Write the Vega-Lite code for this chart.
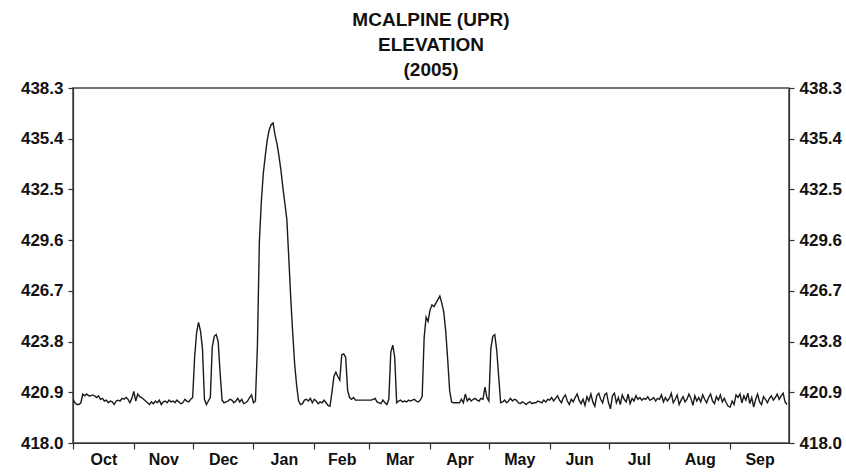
{
"$schema": "https://vega.github.io/schema/vega-lite/v6.json",
"autosize": {"type": "none"},
"padding": {"left": 73, "top": 88, "right": 57, "bottom": 29},
"width": 716,
"height": 355,
"background": "white",
"title": {"text": ["MCALPINE (UPR)", "ELEVATION", "(2005)"], "font": "Liberation Sans", "fontWeight": "bold", "fontSize": 19, "lineHeight": 25, "anchor": "middle", "offset": -1, "color": "#111"},
"config": {"view": {"stroke": "#444", "strokeWidth": 1.5}},
"data": {"values": [
{"date":"2004-10-01","elev":420.5},{"date":"2004-10-02","elev":420.3},{"date":"2004-10-03","elev":420.2},{"date":"2004-10-04","elev":420.2},{"date":"2004-10-05","elev":420.3},{"date":"2004-10-06","elev":420.8},{"date":"2004-10-07","elev":420.7},{"date":"2004-10-08","elev":420.8},{"date":"2004-10-09","elev":420.7},{"date":"2004-10-10","elev":420.7},{"date":"2004-10-11","elev":420.75},{"date":"2004-10-12","elev":420.7},{"date":"2004-10-13","elev":420.6},{"date":"2004-10-14","elev":420.7},{"date":"2004-10-15","elev":420.5},{"date":"2004-10-16","elev":420.55},{"date":"2004-10-17","elev":420.4},{"date":"2004-10-18","elev":420.45},{"date":"2004-10-19","elev":420.3},{"date":"2004-10-20","elev":420.4},{"date":"2004-10-21","elev":420.35},{"date":"2004-10-22","elev":420.2},{"date":"2004-10-23","elev":420.4},{"date":"2004-10-24","elev":420.45},{"date":"2004-10-25","elev":420.4},{"date":"2004-10-26","elev":420.55},{"date":"2004-10-27","elev":420.5},{"date":"2004-10-28","elev":420.6},{"date":"2004-10-29","elev":420.5},{"date":"2004-10-30","elev":420.3},{"date":"2004-10-31","elev":420.55},
{"date":"2004-11-01","elev":420.95},{"date":"2004-11-02","elev":420.4},{"date":"2004-11-03","elev":420.8},{"date":"2004-11-04","elev":420.65},{"date":"2004-11-05","elev":420.6},{"date":"2004-11-06","elev":420.5},{"date":"2004-11-07","elev":420.4},{"date":"2004-11-08","elev":420.3},{"date":"2004-11-09","elev":420.2},{"date":"2004-11-10","elev":420.35},{"date":"2004-11-11","elev":420.25},{"date":"2004-11-12","elev":420.4},{"date":"2004-11-13","elev":420.3},{"date":"2004-11-14","elev":420.45},{"date":"2004-11-15","elev":420.2},{"date":"2004-11-16","elev":420.35},{"date":"2004-11-17","elev":420.4},{"date":"2004-11-18","elev":420.3},{"date":"2004-11-19","elev":420.45},{"date":"2004-11-20","elev":420.35},{"date":"2004-11-21","elev":420.4},{"date":"2004-11-22","elev":420.3},{"date":"2004-11-23","elev":420.45},{"date":"2004-11-24","elev":420.35},{"date":"2004-11-25","elev":420.25},{"date":"2004-11-26","elev":420.3},{"date":"2004-11-27","elev":420.5},{"date":"2004-11-28","elev":420.4},{"date":"2004-11-29","elev":420.35},{"date":"2004-11-30","elev":420.5},
{"date":"2004-12-01","elev":420.6},{"date":"2004-12-02","elev":422.9},{"date":"2004-12-03","elev":424.3},{"date":"2004-12-04","elev":424.9},{"date":"2004-12-05","elev":424.4},{"date":"2004-12-06","elev":423.4},{"date":"2004-12-07","elev":420.5},{"date":"2004-12-08","elev":420.2},{"date":"2004-12-09","elev":420.4},{"date":"2004-12-10","elev":420.6},{"date":"2004-12-11","elev":423.5},{"date":"2004-12-12","elev":424.1},{"date":"2004-12-13","elev":424.2},{"date":"2004-12-14","elev":423.8},{"date":"2004-12-15","elev":422.0},{"date":"2004-12-16","elev":420.45},{"date":"2004-12-17","elev":420.3},{"date":"2004-12-18","elev":420.35},{"date":"2004-12-19","elev":420.4},{"date":"2004-12-20","elev":420.5},{"date":"2004-12-21","elev":420.45},{"date":"2004-12-22","elev":420.3},{"date":"2004-12-23","elev":420.4},{"date":"2004-12-24","elev":420.55},{"date":"2004-12-25","elev":420.35},{"date":"2004-12-26","elev":420.5},{"date":"2004-12-27","elev":420.25},{"date":"2004-12-28","elev":420.3},{"date":"2004-12-29","elev":420.4},{"date":"2004-12-30","elev":420.6},{"date":"2004-12-31","elev":420.75},
{"date":"2005-01-01","elev":420.3},{"date":"2005-01-02","elev":420.4},{"date":"2005-01-03","elev":423.5},{"date":"2005-01-04","elev":429.5},{"date":"2005-01-05","elev":431.8},{"date":"2005-01-06","elev":433.4},{"date":"2005-01-07","elev":434.4},{"date":"2005-01-08","elev":435.3},{"date":"2005-01-09","elev":435.9},{"date":"2005-01-10","elev":436.2},{"date":"2005-01-11","elev":436.3},{"date":"2005-01-12","elev":435.6},{"date":"2005-01-13","elev":435.1},{"date":"2005-01-14","elev":434.4},{"date":"2005-01-15","elev":433.6},{"date":"2005-01-16","elev":432.6},{"date":"2005-01-17","elev":431.7},{"date":"2005-01-18","elev":430.8},{"date":"2005-01-19","elev":428.6},{"date":"2005-01-20","elev":426.3},{"date":"2005-01-21","elev":424.3},{"date":"2005-01-22","elev":422.5},{"date":"2005-01-23","elev":421.3},{"date":"2005-01-24","elev":420.4},{"date":"2005-01-25","elev":420.2},{"date":"2005-01-26","elev":420.25},{"date":"2005-01-27","elev":420.45},{"date":"2005-01-28","elev":420.5},{"date":"2005-01-29","elev":420.4},{"date":"2005-01-30","elev":420.55},{"date":"2005-01-31","elev":420.3},
{"date":"2005-02-01","elev":420.5},{"date":"2005-02-02","elev":420.4},{"date":"2005-02-03","elev":420.25},{"date":"2005-02-04","elev":420.35},{"date":"2005-02-05","elev":420.3},{"date":"2005-02-06","elev":420.45},{"date":"2005-02-07","elev":420.3},{"date":"2005-02-08","elev":420.15},{"date":"2005-02-09","elev":420.1},{"date":"2005-02-10","elev":420.9},{"date":"2005-02-11","elev":421.8},{"date":"2005-02-12","elev":422.05},{"date":"2005-02-13","elev":421.8},{"date":"2005-02-14","elev":421.6},{"date":"2005-02-15","elev":423.05},{"date":"2005-02-16","elev":423.1},{"date":"2005-02-17","elev":422.9},{"date":"2005-02-18","elev":421.0},{"date":"2005-02-19","elev":420.6},{"date":"2005-02-20","elev":420.5},{"date":"2005-02-21","elev":420.6},{"date":"2005-02-22","elev":420.45},{"date":"2005-02-23","elev":420.45},{"date":"2005-02-24","elev":420.45},{"date":"2005-02-25","elev":420.45},{"date":"2005-02-26","elev":420.45},{"date":"2005-02-27","elev":420.45},{"date":"2005-02-28","elev":420.45},
{"date":"2005-03-01","elev":420.45},{"date":"2005-03-02","elev":420.45},{"date":"2005-03-03","elev":420.5},{"date":"2005-03-04","elev":420.55},{"date":"2005-03-05","elev":420.35},{"date":"2005-03-06","elev":420.3},{"date":"2005-03-07","elev":420.25},{"date":"2005-03-08","elev":420.45},{"date":"2005-03-09","elev":420.3},{"date":"2005-03-10","elev":420.2},{"date":"2005-03-11","elev":420.5},{"date":"2005-03-12","elev":423.2},{"date":"2005-03-13","elev":423.6},{"date":"2005-03-14","elev":422.9},{"date":"2005-03-15","elev":420.3},{"date":"2005-03-16","elev":420.4},{"date":"2005-03-17","elev":420.45},{"date":"2005-03-18","elev":420.35},{"date":"2005-03-19","elev":420.4},{"date":"2005-03-20","elev":420.35},{"date":"2005-03-21","elev":420.45},{"date":"2005-03-22","elev":420.4},{"date":"2005-03-23","elev":420.45},{"date":"2005-03-24","elev":420.5},{"date":"2005-03-25","elev":420.4},{"date":"2005-03-26","elev":420.35},{"date":"2005-03-27","elev":420.45},{"date":"2005-03-28","elev":420.65},{"date":"2005-03-29","elev":424.0},{"date":"2005-03-30","elev":425.2},{"date":"2005-03-31","elev":424.95},
{"date":"2005-04-01","elev":425.6},{"date":"2005-04-02","elev":425.9},{"date":"2005-04-03","elev":425.8},{"date":"2005-04-04","elev":426.0},{"date":"2005-04-05","elev":426.2},{"date":"2005-04-06","elev":426.4},{"date":"2005-04-07","elev":426.0},{"date":"2005-04-08","elev":425.5},{"date":"2005-04-09","elev":424.4},{"date":"2005-04-10","elev":422.8},{"date":"2005-04-11","elev":421.0},{"date":"2005-04-12","elev":420.35},{"date":"2005-04-13","elev":420.3},{"date":"2005-04-14","elev":420.3},{"date":"2005-04-15","elev":420.3},{"date":"2005-04-16","elev":420.3},{"date":"2005-04-17","elev":420.5},{"date":"2005-04-18","elev":420.3},{"date":"2005-04-19","elev":420.8},{"date":"2005-04-20","elev":420.4},{"date":"2005-04-21","elev":420.55},{"date":"2005-04-22","elev":420.4},{"date":"2005-04-23","elev":420.5},{"date":"2005-04-24","elev":420.55},{"date":"2005-04-25","elev":420.45},{"date":"2005-04-26","elev":420.4},{"date":"2005-04-27","elev":420.55},{"date":"2005-04-28","elev":420.5},{"date":"2005-04-29","elev":421.2},{"date":"2005-04-30","elev":420.6},
{"date":"2005-05-01","elev":420.4},{"date":"2005-05-02","elev":423.4},{"date":"2005-05-03","elev":424.1},{"date":"2005-05-04","elev":424.2},{"date":"2005-05-05","elev":423.3},{"date":"2005-05-06","elev":421.8},{"date":"2005-05-07","elev":420.3},{"date":"2005-05-08","elev":420.35},{"date":"2005-05-09","elev":420.45},{"date":"2005-05-10","elev":420.3},{"date":"2005-05-11","elev":420.4},{"date":"2005-05-12","elev":420.55},{"date":"2005-05-13","elev":420.4},{"date":"2005-05-14","elev":420.5},{"date":"2005-05-15","elev":420.45},{"date":"2005-05-16","elev":420.3},{"date":"2005-05-17","elev":420.25},{"date":"2005-05-18","elev":420.35},{"date":"2005-05-19","elev":420.3},{"date":"2005-05-20","elev":420.2},{"date":"2005-05-21","elev":420.3},{"date":"2005-05-22","elev":420.35},{"date":"2005-05-23","elev":420.25},{"date":"2005-05-24","elev":420.3},{"date":"2005-05-25","elev":420.3},{"date":"2005-05-26","elev":420.4},{"date":"2005-05-27","elev":420.35},{"date":"2005-05-28","elev":420.3},{"date":"2005-05-29","elev":420.45},{"date":"2005-05-30","elev":420.35},{"date":"2005-05-31","elev":420.5},
{"date":"2005-06-01","elev":420.45},{"date":"2005-06-02","elev":420.6},{"date":"2005-06-03","elev":420.4},{"date":"2005-06-04","elev":420.55},{"date":"2005-06-05","elev":420.7},{"date":"2005-06-06","elev":420.45},{"date":"2005-06-07","elev":420.3},{"date":"2005-06-08","elev":420.6},{"date":"2005-06-09","elev":420.75},{"date":"2005-06-10","elev":420.4},{"date":"2005-06-11","elev":420.2},{"date":"2005-06-12","elev":420.5},{"date":"2005-06-13","elev":420.35},{"date":"2005-06-14","elev":420.6},{"date":"2005-06-15","elev":420.8},{"date":"2005-06-16","elev":420.45},{"date":"2005-06-17","elev":420.25},{"date":"2005-06-18","elev":420.5},{"date":"2005-06-19","elev":420.15},{"date":"2005-06-20","elev":420.65},{"date":"2005-06-21","elev":420.4},{"date":"2005-06-22","elev":420.8},{"date":"2005-06-23","elev":420.35},{"date":"2005-06-24","elev":420.1},{"date":"2005-06-25","elev":420.7},{"date":"2005-06-26","elev":420.85},{"date":"2005-06-27","elev":420.5},{"date":"2005-06-28","elev":420.3},{"date":"2005-06-29","elev":420.75},{"date":"2005-06-30","elev":420.85},
{"date":"2005-07-01","elev":420.3},{"date":"2005-07-02","elev":419.95},{"date":"2005-07-03","elev":420.7},{"date":"2005-07-04","elev":420.85},{"date":"2005-07-05","elev":420.3},{"date":"2005-07-06","elev":420.6},{"date":"2005-07-07","elev":420.2},{"date":"2005-07-08","elev":420.75},{"date":"2005-07-09","elev":420.5},{"date":"2005-07-10","elev":420.35},{"date":"2005-07-11","elev":420.8},{"date":"2005-07-12","elev":420.25},{"date":"2005-07-13","elev":420.55},{"date":"2005-07-14","elev":420.4},{"date":"2005-07-15","elev":420.7},{"date":"2005-07-16","elev":420.5},{"date":"2005-07-17","elev":420.6},{"date":"2005-07-18","elev":420.45},{"date":"2005-07-19","elev":420.55},{"date":"2005-07-20","elev":420.5},{"date":"2005-07-21","elev":420.65},{"date":"2005-07-22","elev":420.45},{"date":"2005-07-23","elev":420.5},{"date":"2005-07-24","elev":420.6},{"date":"2005-07-25","elev":420.4},{"date":"2005-07-26","elev":420.55},{"date":"2005-07-27","elev":420.5},{"date":"2005-07-28","elev":420.75},{"date":"2005-07-29","elev":420.35},{"date":"2005-07-30","elev":420.6},{"date":"2005-07-31","elev":420.4},
{"date":"2005-08-01","elev":420.55},{"date":"2005-08-02","elev":420.85},{"date":"2005-08-03","elev":420.3},{"date":"2005-08-04","elev":420.5},{"date":"2005-08-05","elev":420.75},{"date":"2005-08-06","elev":420.2},{"date":"2005-08-07","elev":420.45},{"date":"2005-08-08","elev":420.65},{"date":"2005-08-09","elev":420.35},{"date":"2005-08-10","elev":420.5},{"date":"2005-08-11","elev":420.8},{"date":"2005-08-12","elev":420.55},{"date":"2005-08-13","elev":420.15},{"date":"2005-08-14","elev":420.7},{"date":"2005-08-15","elev":420.4},{"date":"2005-08-16","elev":420.6},{"date":"2005-08-17","elev":420.35},{"date":"2005-08-18","elev":420.75},{"date":"2005-08-19","elev":420.5},{"date":"2005-08-20","elev":420.3},{"date":"2005-08-21","elev":420.6},{"date":"2005-08-22","elev":420.8},{"date":"2005-08-23","elev":420.4},{"date":"2005-08-24","elev":420.25},{"date":"2005-08-25","elev":420.65},{"date":"2005-08-26","elev":420.45},{"date":"2005-08-27","elev":420.75},{"date":"2005-08-28","elev":420.35},{"date":"2005-08-29","elev":420.55},{"date":"2005-08-30","elev":420.3},{"date":"2005-08-31","elev":420.1},
{"date":"2005-09-01","elev":420.05},{"date":"2005-09-02","elev":420.4},{"date":"2005-09-03","elev":420.2},{"date":"2005-09-04","elev":420.75},{"date":"2005-09-05","elev":420.6},{"date":"2005-09-06","elev":420.8},{"date":"2005-09-07","elev":420.3},{"date":"2005-09-08","elev":420.7},{"date":"2005-09-09","elev":420.45},{"date":"2005-09-10","elev":420.85},{"date":"2005-09-11","elev":420.25},{"date":"2005-09-12","elev":420.6},{"date":"2005-09-13","elev":420.05},{"date":"2005-09-14","elev":420.5},{"date":"2005-09-15","elev":420.8},{"date":"2005-09-16","elev":420.35},{"date":"2005-09-17","elev":420.2},{"date":"2005-09-18","elev":420.65},{"date":"2005-09-19","elev":420.5},{"date":"2005-09-20","elev":420.3},{"date":"2005-09-21","elev":420.55},{"date":"2005-09-22","elev":420.7},{"date":"2005-09-23","elev":420.45},{"date":"2005-09-24","elev":420.6},{"date":"2005-09-25","elev":420.8},{"date":"2005-09-26","elev":420.5},{"date":"2005-09-27","elev":420.7},{"date":"2005-09-28","elev":420.85},{"date":"2005-09-29","elev":420.35},{"date":"2005-09-30","elev":420.2}
]},
"layer": [
{
"mark": {"type": "line", "stroke": "#1a1a1a", "strokeWidth": 1.4, "clip": true},
"encoding": {
"x": {"field": "date", "type": "temporal",
"scale": {"type": "utc", "domain": [{"year": 2004, "month": 10, "date": 1, "utc": true}, {"year": 2005, "month": 10, "date": 1, "utc": true}], "nice": false},
"axis": {"title": null, "grid": false, "labels": false,
"values": [
{"year": 2004, "month": 10, "date": 1, "utc": true},{"year": 2004, "month": 11, "date": 1, "utc": true},{"year": 2004, "month": 12, "date": 1, "utc": true},
{"year": 2005, "month": 1, "date": 1, "utc": true},{"year": 2005, "month": 2, "date": 1, "utc": true},{"year": 2005, "month": 3, "date": 1, "utc": true},
{"year": 2005, "month": 4, "date": 1, "utc": true},{"year": 2005, "month": 5, "date": 1, "utc": true},{"year": 2005, "month": 6, "date": 1, "utc": true},
{"year": 2005, "month": 7, "date": 1, "utc": true},{"year": 2005, "month": 8, "date": 1, "utc": true},{"year": 2005, "month": 9, "date": 1, "utc": true}],
"tickSize": 6, "tickColor": "#333", "tickWidth": 1.2, "domainColor": "#333", "domainWidth": 1.2}},
"y": {"field": "elev", "type": "quantitative",
"scale": {"domain": [418, 438.3], "nice": false, "zero": false},
"axis": {"title": null, "grid": false, "orient": "left", "values": [418, 420.9, 423.8, 426.7, 429.6, 432.5, 435.4, 438.3], "format": ".1f",
"labelFont": "Liberation Sans", "labelFontWeight": "bold", "labelFontSize": 17, "labelColor": "#111", "labelPadding": 5,
"tickSize": 5, "tickColor": "#333", "tickWidth": 1.2, "domainColor": "#333", "domainWidth": 1.2}}
}
},
{
"mark": {"type": "line", "opacity": 0},
"encoding": {
"x": {"field": "date", "type": "temporal",
"axis": {"title": null, "grid": false, "orient": "bottom", "format": "%b", "labelFlush": false, "labelOverlap": false, "labelAlign": "center", "ticks": false, "domain": false,
"values": [
{"year": 2004, "month": 10, "date": 16, "hours": 12, "utc": true},{"year": 2004, "month": 11, "date": 16, "utc": true},{"year": 2004, "month": 12, "date": 16, "hours": 12, "utc": true},
{"year": 2005, "month": 1, "date": 16, "hours": 12, "utc": true},{"year": 2005, "month": 2, "date": 15, "utc": true},{"year": 2005, "month": 3, "date": 16, "hours": 12, "utc": true},
{"year": 2005, "month": 4, "date": 16, "utc": true},{"year": 2005, "month": 5, "date": 16, "hours": 12, "utc": true},{"year": 2005, "month": 6, "date": 16, "utc": true},
{"year": 2005, "month": 7, "date": 16, "hours": 12, "utc": true},{"year": 2005, "month": 8, "date": 16, "hours": 12, "utc": true},{"year": 2005, "month": 9, "date": 16, "utc": true}],
"labelFont": "Liberation Sans", "labelFontWeight": "bold", "labelFontSize": 16, "labelColor": "#111", "labelPadding": 8}},
"y": {"field": "elev", "type": "quantitative",
"scale": {"domain": [418, 438.3], "nice": false, "zero": false},
"axis": {"title": null, "grid": false, "orient": "right", "values": [418, 420.9, 423.8, 426.7, 429.6, 432.5, 435.4, 438.3], "format": ".1f",
"labelFont": "Liberation Sans", "labelFontWeight": "bold", "labelFontSize": 17, "labelColor": "#111", "labelPadding": 5,
"tickSize": 5, "tickColor": "#333", "tickWidth": 1.2, "domainColor": "#333", "domainWidth": 1.2}}
}
}
],
"resolve": {"axis": {"x": "independent", "y": "independent"}}
}
